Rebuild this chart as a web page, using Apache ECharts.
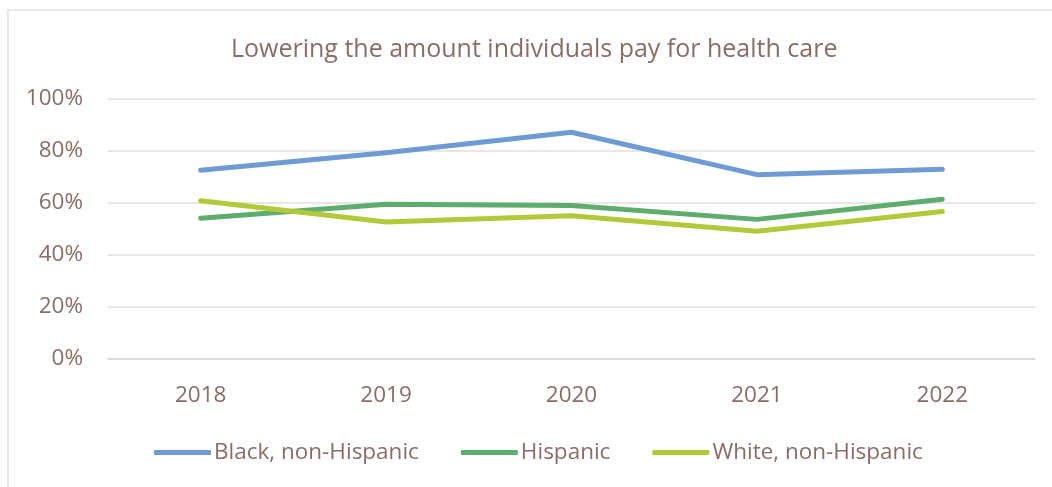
<!DOCTYPE html>
<html>
<head>
<meta charset="utf-8">
<script src="https://cdn.jsdelivr.net/npm/echarts@6/dist/echarts.min.js"></script>
<style>
  html, body { margin: 0; padding: 0; background: #ffffff; }
  #chart { width: 1052px; height: 487px; }
</style>
</head>
<body>
<div id="chart"></div>
<script>
// Share of respondents, by year and group
const years = ['2018', '2019', '2020', '2021', '2022'];
const blackNonHispanic = [0.726, 0.793, 0.872, 0.709, 0.730];
const hispanic = [0.541, 0.595, 0.590, 0.537, 0.614];
const whiteNonHispanic = [0.609, 0.527, 0.551, 0.491, 0.567];
const yTicks = [0, 0.2, 0.4, 0.6, 0.8, 1.0];

const textColor = '#8a6d66';
const fontFamily = '"Open Sans", "Noto Sans", sans-serif';

const chart = echarts.init(document.getElementById('chart'), null, { renderer: 'canvas' });

function lineSeries(name, data, color) {
  return {
    name: name,
    type: 'line',
    data: data,
    symbol: 'none',
    smooth: false,
    lineStyle: { width: 5, color: color, cap: 'round', join: 'round' },
    itemStyle: { color: color }
  };
}

chart.setOption({
  animation: false,
  backgroundColor: '#ffffff',
  graphic: [{
    type: 'rect',
    shape: { x: 8, y: 10, width: 1060, height: 500 },
    style: { fill: 'none', stroke: '#d9d4d2', lineWidth: 1.2 },
    silent: true,
    z: -1
  }],
  title: {
    text: 'Lowering the amount individuals pay for health care',
    left: 226,
    top: 32,
    textStyle: { color: textColor, fontSize: 25, fontWeight: 'normal', fontFamily: fontFamily }
  },
  grid: { left: 108, right: 17, top: 99, bottom: 128, containLabel: false },
  xAxis: {
    type: 'category',
    data: years,
    boundaryGap: true,
    axisLine: { show: true, lineStyle: { color: '#ddd8d6', width: 1.5 } },
    axisTick: { show: false },
    axisLabel: { color: textColor, fontSize: 22.5, fontFamily: fontFamily, margin: 25 }
  },
  yAxis: {
    type: 'value',
    min: yTicks[0],
    max: yTicks[yTicks.length - 1],
    interval: 0.2,
    axisLine: { show: false },
    axisTick: { show: false },
    splitLine: { lineStyle: { color: '#e2dedc', width: 1.5 } },
    axisLabel: {
      color: textColor,
      fontSize: 22.5,
      fontFamily: fontFamily,
      margin: 25,
      formatter: v => Math.round(v * 100) + '%'
    }
  },
  legend: {
    top: 436,
    left: 149,
    itemWidth: 57,
    itemHeight: 5,
    itemGap: 42,
    icon: 'roundRect',
    textStyle: { color: textColor, fontSize: 22.5, fontFamily: fontFamily, padding: [0, 0, 0, -2] },
    data: ['Black, non-Hispanic', 'Hispanic', 'White, non-Hispanic']
  },
  series: [
    lineSeries('Black, non-Hispanic', blackNonHispanic, '#6f9bd4'),
    lineSeries('Hispanic', hispanic, '#5eac6e'),
    lineSeries('White, non-Hispanic', whiteNonHispanic, '#b4c93a')
  ]
});
</script>
</body>
</html>
